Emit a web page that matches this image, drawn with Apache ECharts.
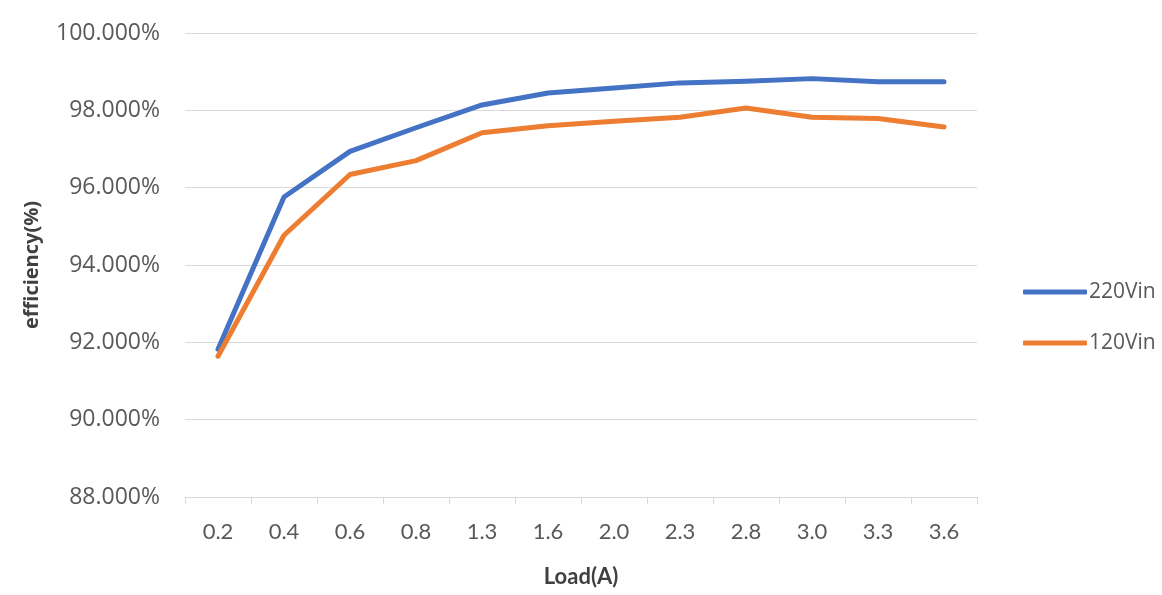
<!DOCTYPE html>
<html>
<head>
<meta charset="utf-8">
<script src="https://cdn.jsdelivr.net/npm/echarts@6/dist/echarts.min.js"></script>
<style>html,body{margin:0;padding:0;background:#fff}#c{width:1162px;height:595px}</style>
</head>
<body>
<div id="c"></div>
<script>
const categories = ['0.2','0.4','0.6','0.8','1.3','1.6','2.0','2.3','2.8','3.0','3.3','3.6'];
const vin220 = [91.82, 95.76, 96.94, 97.55, 98.14, 98.45, 98.58, 98.71, 98.75, 98.82, 98.74, 98.74];
const vin120 = [91.64, 94.77, 96.34, 96.70, 97.42, 97.60, 97.72, 97.82, 98.06, 97.82, 97.79, 97.57];
const seriesNames = ['220Vin', '120Vin'];
const yTicks = { min: 88, max: 100, interval: 2 };

const chart = echarts.init(document.getElementById('c'), null, { renderer: 'canvas' });
chart.setOption({
  backgroundColor: '#ffffff',
  animation: false,
  grid: { left: 185, right: 185, top: 33, bottom: 98, containLabel: false },
  legend: {
    orient: 'vertical',
    left: 1018,
    top: 276,
    itemWidth: 64,
    itemHeight: 5,
    itemGap: 29,
    icon: 'roundRect',
    textStyle: { fontFamily: 'Open Sans', fontSize: 21, color: '#595959', padding: [0, 0, 0, -3], lineHeight: 22 },
    data: seriesNames
  },
  xAxis: {
    type: 'category',
    data: categories,
    boundaryGap: true,
    name: 'Load(A)',
    nameLocation: 'middle',
    nameGap: 69,
    nameTextStyle: { fontFamily: 'Lato', fontWeight: 'bold', fontSize: 22, color: '#404040' },
    axisLine: { lineStyle: { color: '#d9d9d9', width: 1 } },
    axisTick: { show: true, alignWithLabel: false, length: 7, lineStyle: { color: '#d9d9d9' } },
    axisLabel: { fontFamily: 'Lato', fontSize: 22, color: '#595959', margin: 24 }
  },
  yAxis: {
    type: 'value',
    min: yTicks.min,
    max: yTicks.max,
    interval: yTicks.interval,
    name: 'efficiency(%)',
    nameLocation: 'middle',
    nameGap: 143,
    nameRotate: 90,
    nameTextStyle: { fontFamily: 'Open Sans', fontWeight: 'bold', fontSize: 20, color: '#404040' },
    axisLine: { show: false },
    axisTick: { show: false },
    splitLine: { lineStyle: { color: '#d9d9d9', width: 1 } },
    axisLabel: {
      fontFamily: 'Open Sans', fontSize: 23, color: '#595959', margin: 25,
      formatter: v => v.toFixed(3) + '%'
    }
  },
  series: [
    { name: seriesNames[0], type: 'line', data: vin220, symbol: 'none', lineStyle: { color: '#4472C4', width: 5, cap: 'round', join: 'round' }, itemStyle: { color: '#4472C4' } },
    { name: seriesNames[1], type: 'line', data: vin120, symbol: 'none', lineStyle: { color: '#ED7D31', width: 5, cap: 'round', join: 'round' }, itemStyle: { color: '#ED7D31' } }
  ]
});
</script>
</body>
</html>
